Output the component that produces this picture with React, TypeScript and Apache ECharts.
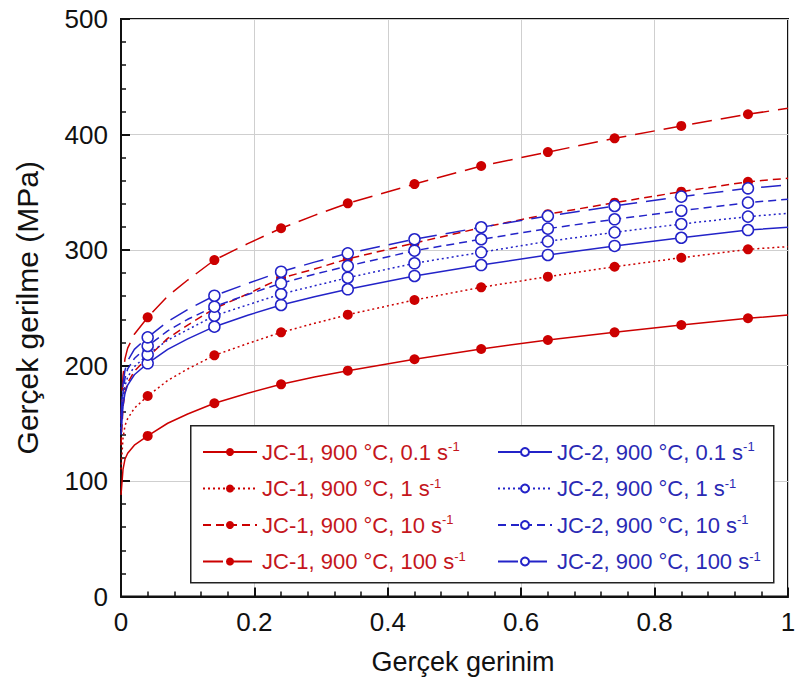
import React, { useEffect, useRef } from "react";
import * as echarts from "echarts";

// True strain sample points (x) and the strains where markers are drawn
const STRAIN = [0, 0.003, 0.006, 0.01, 0.02, 0.04, 0.07, 0.1, 0.14, 0.19, 0.24, 0.29, 0.34, 0.44, 0.54, 0.64, 0.74, 0.84, 0.94, 1.0];
const MARKER_STRAIN = [0.04, 0.14, 0.24, 0.34, 0.44, 0.54, 0.64, 0.74, 0.84, 0.94];

// JC-1 (red, filled markers), true stress in MPa
const JC1_01 = [88, 110, 119, 124, 131, 139, 150, 158, 167.3, 176, 183.7, 190, 195.5, 205.4, 214.3, 222.1, 228.7, 235.1, 240.9, 243.7];
const JC1_1 = [110, 137, 148, 154, 163, 173.6, 187, 197, 208.8, 219, 228.7, 236.5, 244, 256.7, 267.7, 276.9, 285.5, 293.3, 300.6, 302.9];
const JC1_10 = [131, 164, 177, 185, 195, 207, 223.5, 235, 249.3, 262, 275.7, 283.5, 292.3, 306, 319.3, 331, 341, 350.5, 359.1, 362.1];
const JC1_100 = [153, 191, 206, 215, 227, 241.7, 260, 274, 291.3, 305.5, 318.8, 330, 340.4, 357.1, 372.7, 384.8, 396.7, 407.4, 417.5, 422.7];

// JC-2 (blue, open markers)
const JC2_01 = [140, 165, 176, 183, 192, 201.9, 214, 223, 233.6, 243.5, 252.4, 259.5, 266, 277.5, 287, 295.7, 303.5, 310.6, 317.3, 319.7];
const JC2_1 = [145, 171, 182.5, 190, 199, 209.4, 222, 231, 243.1, 252.5, 261.9, 269, 276, 288.5, 298, 307.5, 315.3, 322.5, 328.9, 331.8];
const JC2_10 = [150.5, 177, 189, 197, 206, 216.9, 230, 240, 250.9, 261.5, 271.2, 279, 286.1, 299.4, 309.3, 318.5, 326.6, 334, 341, 343.9];
const JC2_100 = [156, 184, 196, 204, 214, 224.4, 238, 248.5, 260.4, 271, 281.2, 289.5, 297.1, 309.3, 319.7, 329.4, 338.1, 346.2, 353.4, 356.3];

const NAMES_JC1 = ["JC-1, 900 °C, 0.1 s-1", "JC-1, 900 °C, 1 s-1", "JC-1, 900 °C, 10 s-1", "JC-1, 900 °C, 100 s-1"];
const NAMES_JC2 = ["JC-2, 900 °C, 0.1 s-1", "JC-2, 900 °C, 1 s-1", "JC-2, 900 °C, 10 s-1", "JC-2, 900 °C, 100 s-1"];

const X_TICKS = [0, 0.2, 0.4, 0.6, 0.8, 1];
const Y_TICKS = [0, 100, 200, 300, 400, 500];

const RED = "#cc0000";
const BLUE = "#2323c8";
const RED_TEXT = "#c4161c";
const BLUE_TEXT = "#2a2ab4";
const FONT = "'Liberation Sans', Arial, Helvetica, sans-serif";

const DASHES: any[] = ["solid", [2, 3], [8, 5], [20, 9]];

function buildData(values: number[]) {
  return STRAIN.map((x, i) =>
    MARKER_STRAIN.includes(x) ? { value: [x, values[i]] } : { value: [x, values[i]], symbol: "none" }
  );
}

export default function App() {
  const ref = useRef<HTMLDivElement>(null);
  useEffect(() => {
    if (!ref.current) return;
    const chart = echarts.init(ref.current, undefined, { renderer: "svg" });

    const red = [JC1_01, JC1_1, JC1_10, JC1_100];
    const blue = [JC2_01, JC2_1, JC2_10, JC2_100];

    const series: any[] = [];
    red.forEach((vals, k) => {
      series.push({
        type: "line",
        name: NAMES_JC1[k],
        data: buildData(vals),
        smooth: false,
        symbol: "circle",
        symbolSize: 10,
        showSymbol: true,
        lineStyle: { color: RED, width: 1.5, type: DASHES[k] },
        itemStyle: { color: RED, borderWidth: 0 },
        emphasis: { disabled: true },
        z: 2,
      });
    });
    blue.forEach((vals, k) => {
      series.push({
        type: "line",
        name: NAMES_JC2[k],
        data: buildData(vals),
        smooth: false,
        symbol: "circle",
        symbolSize: 11,
        showSymbol: true,
        lineStyle: { color: BLUE, width: 1.5, type: DASHES[k] },
        itemStyle: { color: "#ffffff", borderColor: BLUE, borderWidth: 1.5 },
        emphasis: { disabled: true },
        z: 3,
      });
    });

    const fmt = (name: string) => `{t|${name.replace(/-1$/, "")}}{sup|-1}`;
    const legendCommon = {
      orient: "vertical",
      top: 440,
      itemWidth: 54,
      itemHeight: 10,
      itemGap: 13.5,
      selectedMode: false,
      padding: 0,
      formatter: fmt,
      z: 10,
    };

    const richFor = (c: string) => ({
      t: { fontFamily: FONT, fontSize: 22, color: c, lineHeight: 24 },
      sup: { fontFamily: FONT, fontSize: 13, color: c, lineHeight: 24, verticalAlign: "top" },
    });

    const option: any = {
      animation: false,
      backgroundColor: "#ffffff",
      grid: {
        left: 121,
        right: 9,
        top: 19,
        bottom: 96.5,
        containLabel: false,
        outerBoundsMode: "none",
        show: true,
        borderColor: "#111",
        borderWidth: 2,
        backgroundColor: "transparent",
      },
      xAxis: {
        type: "value",
        min: X_TICKS[0],
        max: X_TICKS[X_TICKS.length - 1],
        interval: 0.2,
        name: "Gerçek gerinim",
        nameLocation: "middle",
        nameGap: 52,
        nameTextStyle: { fontFamily: FONT, fontSize: 27, color: "#111", padding: [0, 0, 0, 17] },
        axisLine: { show: true, onZero: false, lineStyle: { color: "#111", width: 2 } },
        axisTick: { show: true, inside: true, length: 9, lineStyle: { color: "#111", width: 2 } },
        minorTick: { show: true, splitNumber: 5, length: 5, lineStyle: { color: "#111", width: 1.5 } },
        axisLabel: { fontFamily: FONT, fontSize: 26, color: "#111", margin: 12 },
        splitLine: { show: true, lineStyle: { color: "#cfcfcf", width: 1 } },
      },
      yAxis: {
        type: "value",
        min: Y_TICKS[0],
        max: Y_TICKS[Y_TICKS.length - 1],
        interval: 100,
        name: "Gerçek gerilme (MPa)",
        nameLocation: "middle",
        nameGap: 79,
        nameTextStyle: { fontFamily: FONT, fontSize: 30, color: "#111" },
        axisLine: { show: true, onZero: false, lineStyle: { color: "#111", width: 2 } },
        axisTick: { show: true, inside: true, length: 9, lineStyle: { color: "#111", width: 2 } },
        minorTick: { show: true, splitNumber: 5, length: 5, lineStyle: { color: "#111", width: 1.5 } },
        axisLabel: { fontFamily: FONT, fontSize: 26, color: "#111", margin: 13 },
        splitLine: { show: true, lineStyle: { color: "#cfcfcf", width: 1 } },
      },
      legend: [
        {
          ...legendCommon,
          left: 202,
          data: NAMES_JC1,
          textStyle: { color: RED_TEXT, rich: richFor(RED_TEXT) },
        },
        {
          ...legendCommon,
          left: 497,
          data: NAMES_JC2,
          textStyle: { color: BLUE_TEXT, rich: richFor(BLUE_TEXT) },
        },
      ],
      graphic: [
        {
          type: "rect",
          left: 190,
          top: 425,
          shape: { width: 583, height: 157 },
          style: { fill: "#ffffff", stroke: "#222", lineWidth: 1.5 },
          z: 8,
        },
      ],
      series,
    };

    chart.setOption(option);
    return () => chart.dispose();
  }, []);

  return (
    <div
      ref={ref}
      style={{ position: "fixed", left: 0, top: 0, width: 797, height: 693, background: "#fff" }}
    />
  );
}
